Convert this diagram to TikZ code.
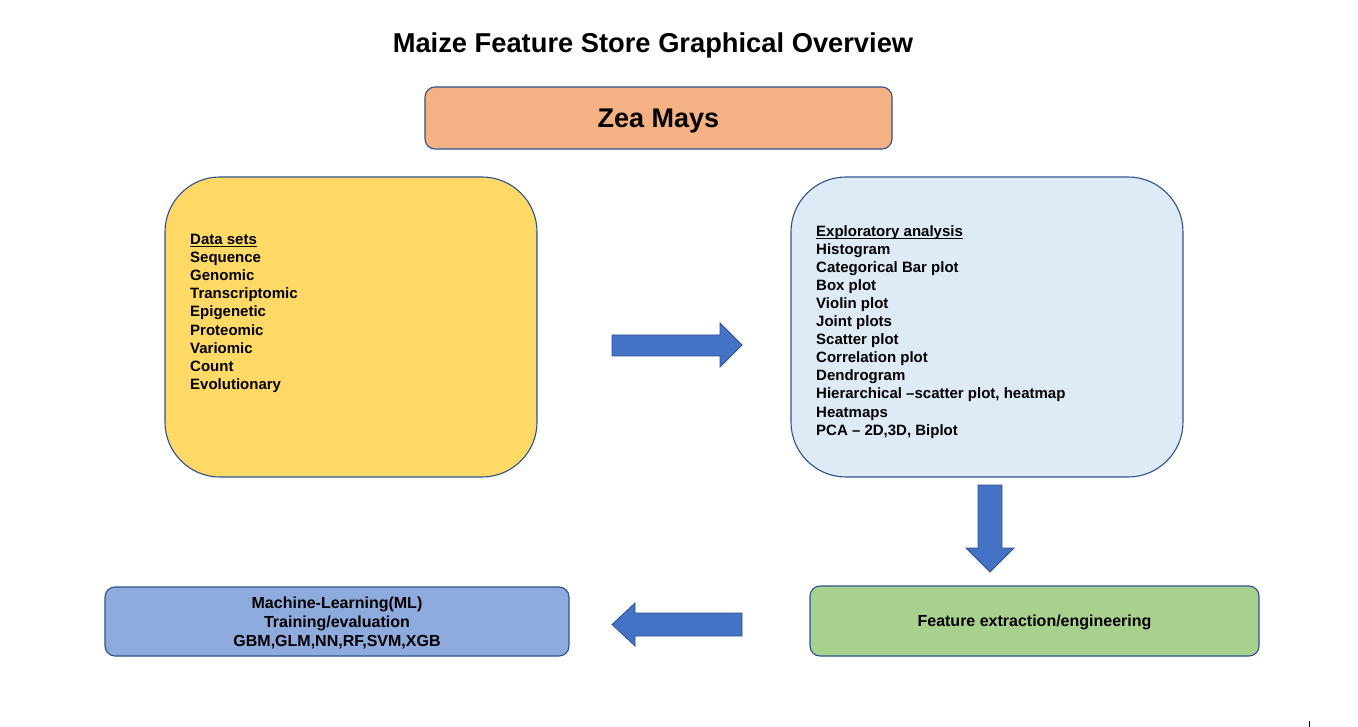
\documentclass[tikz,border=0pt]{standalone}
\usepackage{fontspec}
\setmainfont{Liberation Sans}
\usetikzlibrary{positioning, calc}

\definecolor{boxline}{HTML}{2F528F}
\definecolor{zeaorange}{HTML}{F4B183}
\definecolor{datayellow}{HTML}{FFD966}
\definecolor{exploreblue}{HTML}{DEEBF7}
\definecolor{mlblue}{HTML}{8FAADC}
\definecolor{featgreen}{HTML}{A9D18E}
\definecolor{arrowblue}{HTML}{4472C4}

\newcommand{\headline}[1]{\setbox0\hbox{#1}\rlap{\rule[-2.6pt]{\wd0}{1.1pt}}\box0}

\begin{document}
\begin{tikzpicture}[x=1pt, y=-1pt,
    box/.style={draw=boxline, line width=1.1pt, inner sep=0pt, align=center, text depth=0pt,
      font=\fontsize{16}{19}\selectfont\bfseries},
    bigbox/.style={box, rounded corners=55pt},
    smallbox/.style={box, rounded corners=10pt},
    listtext/.style={anchor=north west, inner sep=0pt, align=left,
      font=\fontsize{15}{18.1}\selectfont\bfseries},
    blockarrow/.style={fill=arrowblue, draw=boxline, line width=0.8pt}]
    \fill[white] (0,0) rectangle (1358,727);
    \useasboundingbox (0,0) rectangle (1358,727);

    % title and top box
    \node[inner sep=0pt, text depth=0pt, font=\fontsize{27.3}{32}\selectfont\bfseries] (title) at (653,43) {Maize Feature Store Graphical Overview};
    \node[smallbox, fill=zeaorange, minimum width=467pt, minimum height=62pt,
      font=\fontsize{27}{32}\selectfont\bfseries] (zea) at (658.5,118) {Zea Mays};

    % the two big boxes
    \node[bigbox, fill=datayellow, minimum width=372pt, minimum height=300pt] (data) at (351,327) {};
    \node[listtext] (datalist) at (190,234) {\headline{Data sets}\\Sequence\\Genomic\\Transcriptomic\\Epigenetic\\Proteomic\\Variomic\\Count\\Evolutionary};

    \node[bigbox, fill=exploreblue, minimum width=392pt, minimum height=300pt] (explore) at (987,327) {};
    \node[listtext] (explorelist) at (816,225) {\headline{Exploratory analysis}\\Histogram\\Categorical Bar plot\\Box plot\\Violin plot\\Joint plots\\Scatter plot\\Correlation plot\\Dendrogram\\Hierarchical \textendash scatter plot, heatmap\\Heatmaps\\PCA \textendash{} 2D,3D, Biplot};

    % bottom boxes
    \node[smallbox, fill=featgreen, minimum width=449pt, minimum height=70pt] (feature) at (1034.5,621) {Feature extraction/engineering};
    \node[smallbox, fill=mlblue, minimum width=464pt, minimum height=69pt] (ml) at (337,621.5) {Machine-Learning(ML)\\Training/evaluation\\GBM,GLM,NN,RF,SVM,XGB};

    % block arrows
    \draw[blockarrow] (612,335) -- (720,335) -- (720,323) -- (742,345) -- (720,367) -- (720,356) -- (612,356) -- cycle;
    \draw[blockarrow] (978,485) -- (1002,485) -- (1002,548) -- (1014,548) -- (990,572) -- (966,548) -- (978,548) -- cycle;
    \draw[blockarrow] (742,613) -- (635,613) -- (635,603) -- (612,624.5) -- (635,646) -- (635,636) -- (742,636) -- cycle;

    \draw[line width=0.8pt] (1309,721) -- (1309,727);
\end{tikzpicture}
\end{document}
